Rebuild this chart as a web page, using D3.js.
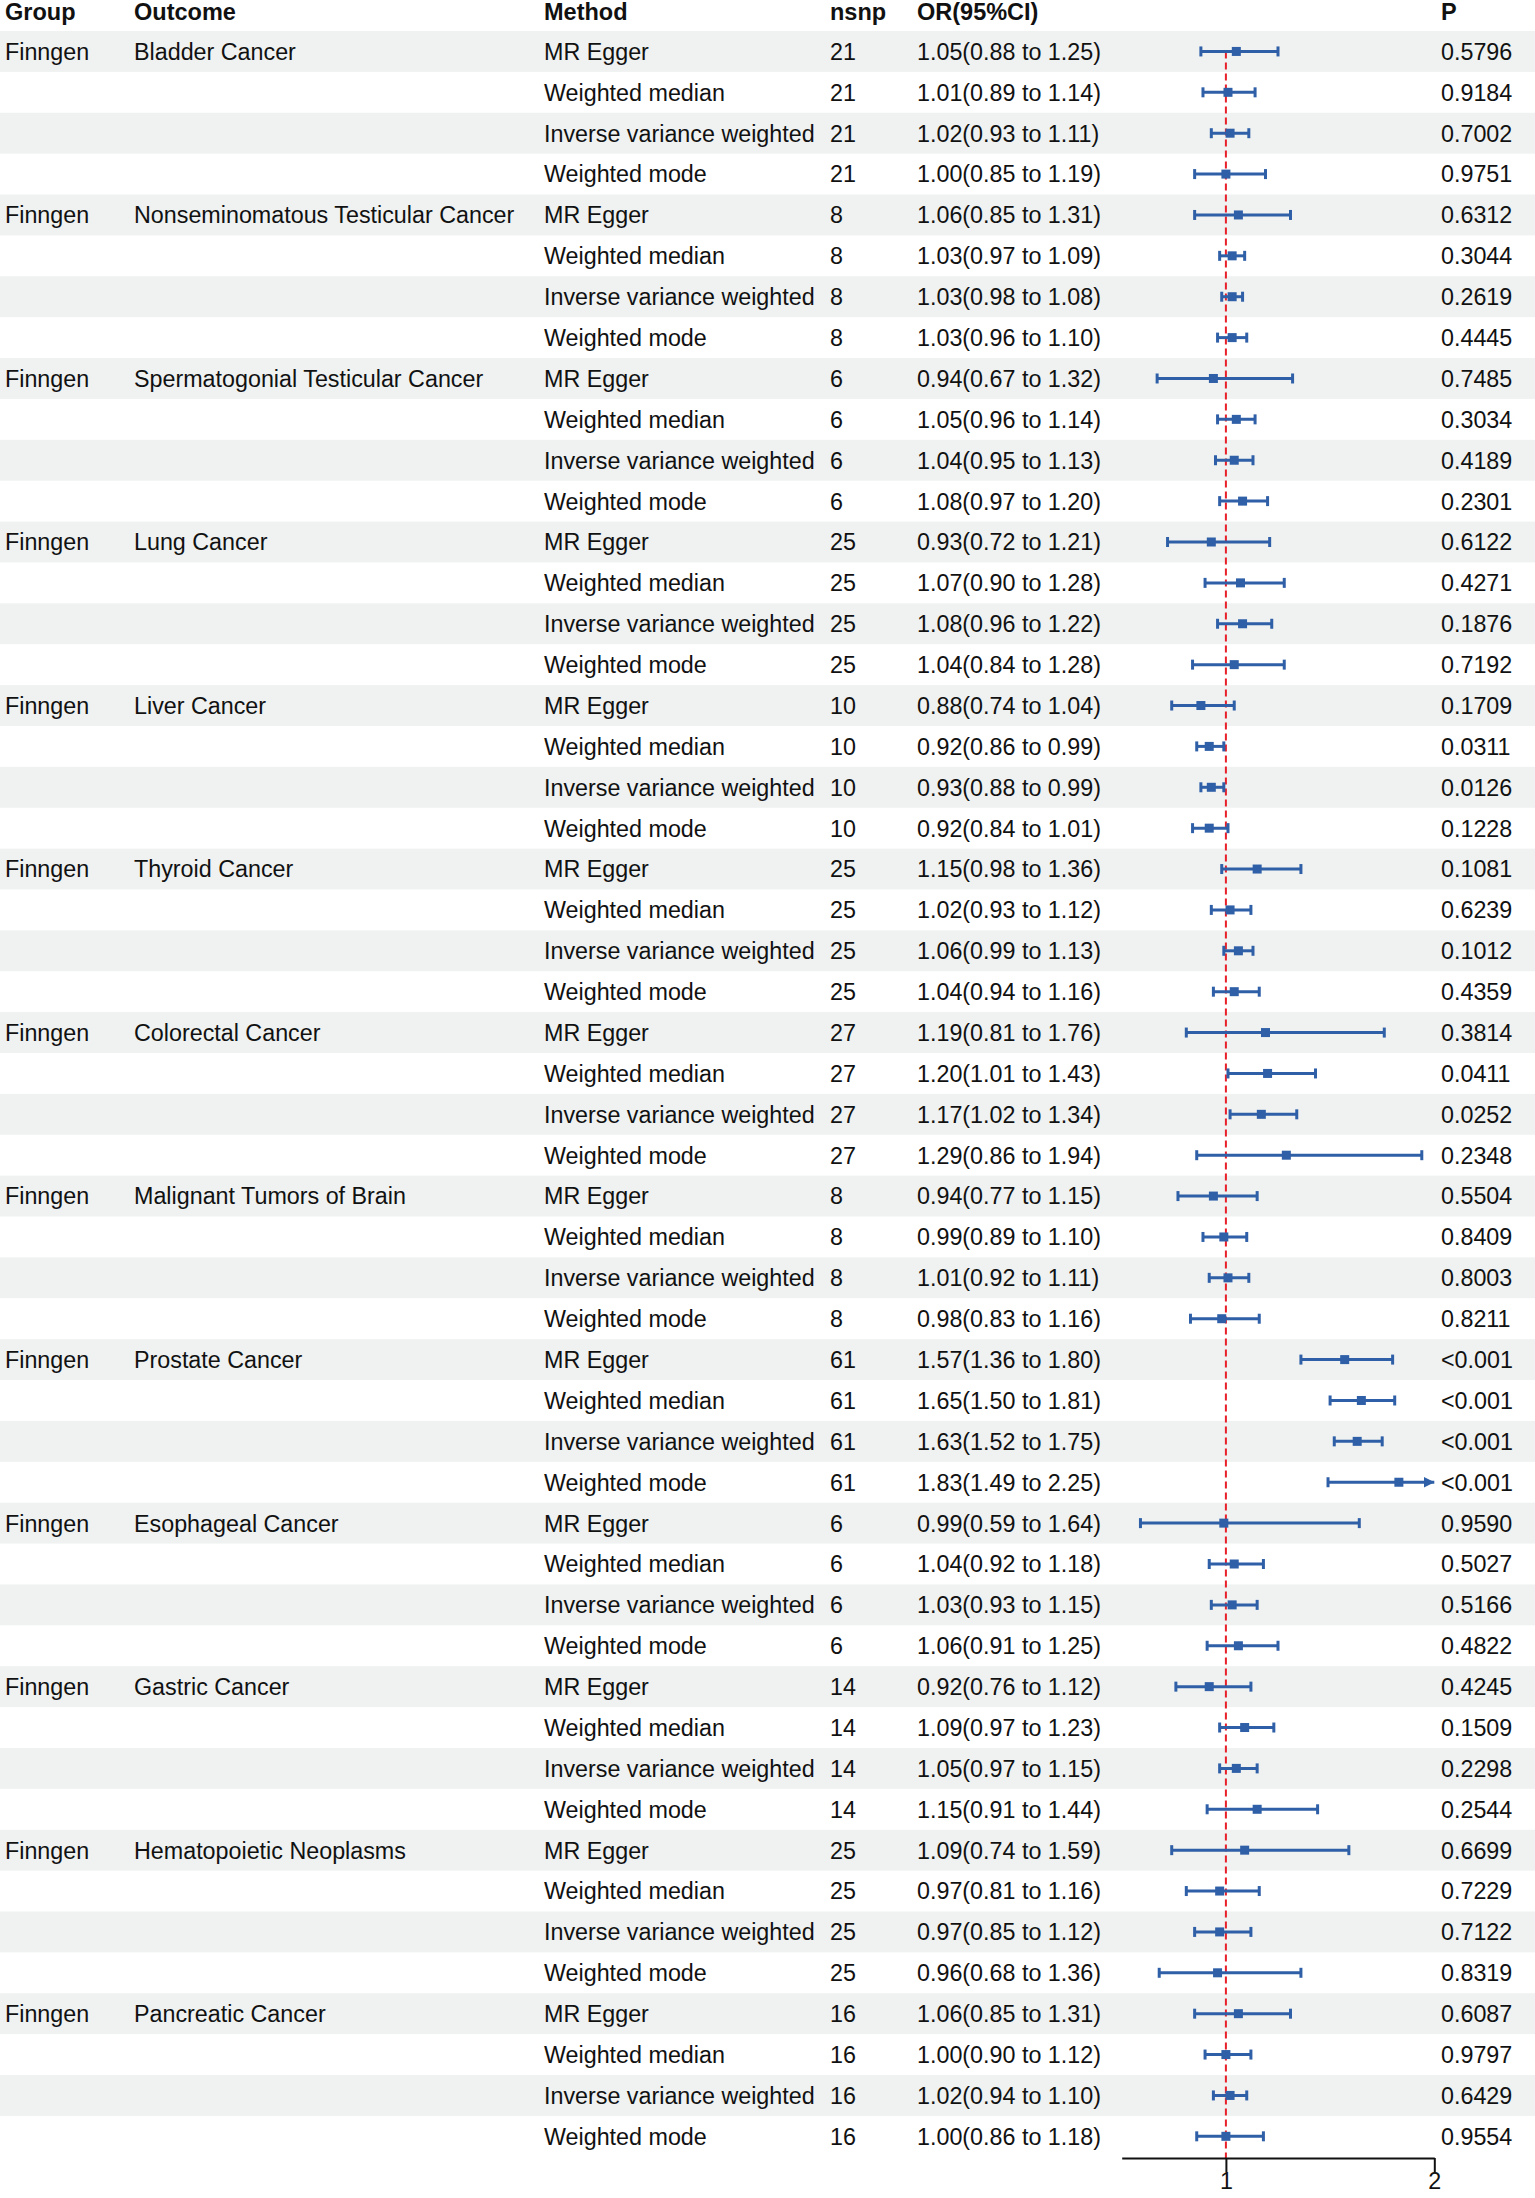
<!DOCTYPE html>
<html>
<head>
<meta charset="utf-8">
<script src="https://cdn.jsdelivr.net/npm/d3@7"></script>
<style>
  body { margin: 0; background: #fff; }
  text { font-family: "Liberation Sans", Arial, sans-serif; fill: #111; }
</style>
</head>
<body>
<div id="chart"></div>
<script>
// ---- data ----
var outcomes = ["Bladder Cancer", "Nonseminomatous Testicular Cancer", "Spermatogonial Testicular Cancer",
  "Lung Cancer", "Liver Cancer", "Thyroid Cancer", "Colorectal Cancer", "Malignant Tumors of Brain",
  "Prostate Cancer", "Esophageal Cancer", "Gastric Cancer", "Hematopoietic Neoplasms", "Pancreatic Cancer"];
var methods = ["MR Egger", "Weighted median", "Inverse variance weighted", "Weighted mode"];
var nsnp = [21, 8, 6, 25, 10, 25, 27, 8, 61, 6, 14, 25, 16];

var orEst = [1.05, 1.01, 1.02, 1.00,  1.06, 1.03, 1.03, 1.03,  0.94, 1.05, 1.04, 1.08,  0.93, 1.07, 1.08, 1.04,
  0.88, 0.92, 0.93, 0.92,  1.15, 1.02, 1.06, 1.04,  1.19, 1.20, 1.17, 1.29,  0.94, 0.99, 1.01, 0.98,
  1.57, 1.65, 1.63, 1.83,  0.99, 1.04, 1.03, 1.06,  0.92, 1.09, 1.05, 1.15,  1.09, 0.97, 0.97, 0.96,
  1.06, 1.00, 1.02, 1.00];
var orLow = [0.88, 0.89, 0.93, 0.85,  0.85, 0.97, 0.98, 0.96,  0.67, 0.96, 0.95, 0.97,  0.72, 0.90, 0.96, 0.84,
  0.74, 0.86, 0.88, 0.84,  0.98, 0.93, 0.99, 0.94,  0.81, 1.01, 1.02, 0.86,  0.77, 0.89, 0.92, 0.83,
  1.36, 1.50, 1.52, 1.49,  0.59, 0.92, 0.93, 0.91,  0.76, 0.97, 0.97, 0.91,  0.74, 0.81, 0.85, 0.68,
  0.85, 0.90, 0.94, 0.86];
var orHigh = [1.25, 1.14, 1.11, 1.19,  1.31, 1.09, 1.08, 1.10,  1.32, 1.14, 1.13, 1.20,  1.21, 1.28, 1.22, 1.28,
  1.04, 0.99, 0.99, 1.01,  1.36, 1.12, 1.13, 1.16,  1.76, 1.43, 1.34, 1.94,  1.15, 1.10, 1.11, 1.16,
  1.80, 1.81, 1.75, 2.25,  1.64, 1.18, 1.15, 1.25,  1.12, 1.23, 1.15, 1.44,  1.59, 1.16, 1.12, 1.36,
  1.31, 1.12, 1.10, 1.18];
var pText = ["0.5796", "0.9184", "0.7002", "0.9751",  "0.6312", "0.3044", "0.2619", "0.4445",
  "0.7485", "0.3034", "0.4189", "0.2301",  "0.6122", "0.4271", "0.1876", "0.7192",
  "0.1709", "0.0311", "0.0126", "0.1228",  "0.1081", "0.6239", "0.1012", "0.4359",
  "0.3814", "0.0411", "0.0252", "0.2348",  "0.5504", "0.8409", "0.8003", "0.8211",
  "<0.001", "<0.001", "<0.001", "<0.001",  "0.9590", "0.5027", "0.5166", "0.4822",
  "0.4245", "0.1509", "0.2298", "0.2544",  "0.6699", "0.7229", "0.7122", "0.8319",
  "0.6087", "0.9797", "0.6429", "0.9554"];
var xTicks = [1, 2];

// build one record per table row
var rows = [];
outcomes.forEach(function(o, i) {
  methods.forEach(function(m, j) {
    var k = i * methods.length + j;
    rows.push({
      group: j === 0 ? "Finngen" : "",
      outcome: j === 0 ? o : "",
      method: m,
      n: nsnp[i],
      est: orEst[k], lo: orLow[k], hi: orHigh[k],
      p: pText[k]
    });
  });
});

var W = 1535, H = 2198;
var rowTop = 31, rowH = 40.88;
var blue = "#2f5fa7";

var svg = d3.select("#chart").append("svg")
  .attr("width", W)
  .attr("height", H);

var y = d3.scaleBand()
  .domain(d3.range(rows.length))
  .range([rowTop, rowTop + rows.length * rowH]);

var x = d3.scaleLinear()
  .domain([0.5, 2])
  .range([1121.7, 1434.3]);

// zebra stripes
svg.selectAll(".stripe")
  .data(rows).enter()
  .append("rect")
  .attr("class", "stripe")
  .attr("x", 0)
  .attr("width", W)
  .attr("y", function(d, i) { return y(i); })
  .attr("height", y.bandwidth())
  .attr("fill", function(d, i) { return i % 2 === 0 ? "#eff2f1" : "none"; });

// column layout
var cols = [
  {key: "group", title: "Group", x: 5},
  {key: "outcome", title: "Outcome", x: 134},
  {key: "method", title: "Method", x: 544},
  {key: "n", title: "nsnp", x: 830},
  {key: "ci", title: "OR(95%CI)", x: 917},
  {key: "p", title: "P", x: 1441}
];

function cellText(d, key) {
  if (key === "ci") return d.est.toFixed(2) + "(" + d.lo.toFixed(2) + " to " + d.hi.toFixed(2) + ")";
  return d[key];
}

svg.selectAll(".header")
  .data(cols).enter()
  .append("text")
  .attr("class", "header")
  .attr("x", function(d) { return d.x; })
  .attr("y", 20)
  .attr("font-size", "23.5px")
  .attr("font-weight", "bold")
  .text(function(d) { return d.title; });

cols.forEach(function(c) {
  svg.selectAll(".cell-" + c.key)
    .data(rows).enter()
    .append("text")
    .attr("class", "cell-" + c.key)
    .attr("x", c.x)
    .attr("y", function(d, i) { return y(i) + y.bandwidth() / 2; })
    .attr("dy", "0.36em")
    .attr("font-size", "23.3px")
    .text(function(d) { return cellText(d, c.key); });
});

// reference line at OR = 1
svg.append("line")
  .attr("x1", x(1)).attr("x2", x(1))
  .attr("y1", y(0) + y.bandwidth() / 2)
  .attr("y2", 2158)
  .attr("stroke", "#e8202a")
  .attr("stroke-width", 2)
  .attr("stroke-dasharray", "7,4");

// arrow for clipped intervals
svg.append("defs").append("marker")
  .attr("id", "arrow")
  .attr("viewBox", "0 0 10 10")
  .attr("refX", 10).attr("refY", 5)
  .attr("markerWidth", 3.6).attr("markerHeight", 3.6)
  .attr("markerUnits", "strokeWidth")
  .attr("orient", "auto")
  .append("path")
  .attr("d", "M0,0L10,5L0,10Z")
  .attr("fill", blue);

var xMax = x.domain()[1];

var ci = svg.selectAll(".ci")
  .data(rows).enter()
  .append("g")
  .attr("class", "ci")
  .attr("transform", function(d, i) { return "translate(0," + (y(i) + y.bandwidth() / 2) + ")"; });

ci.append("line")
  .attr("x1", function(d) { return x(d.lo); })
  .attr("x2", function(d) { return x(Math.min(d.hi, xMax)); })
  .attr("stroke", blue)
  .attr("stroke-width", 3)
  .attr("marker-end", function(d) { return d.hi > xMax ? "url(#arrow)" : null; });

ci.append("line")
  .attr("x1", function(d) { return x(d.lo); })
  .attr("x2", function(d) { return x(d.lo); })
  .attr("y1", -5).attr("y2", 5)
  .attr("stroke", blue)
  .attr("stroke-width", 3);

ci.filter(function(d) { return d.hi <= xMax; })
  .append("line")
  .attr("x1", function(d) { return x(d.hi); })
  .attr("x2", function(d) { return x(d.hi); })
  .attr("y1", -5).attr("y2", 5)
  .attr("stroke", blue)
  .attr("stroke-width", 3);

ci.append("rect")
  .attr("x", function(d) { return x(d.est) - 4.5; })
  .attr("y", -4.5)
  .attr("width", 9)
  .attr("height", 9)
  .attr("fill", blue);

// x axis
var axis = svg.append("g")
  .attr("class", "x axis")
  .attr("transform", "translate(0,2158)")
  .call(d3.axisBottom(x).tickValues(xTicks).tickFormat(d3.format("d"))
    .tickSize(14).tickSizeOuter(0).tickPadding(0));

axis.select(".domain").attr("stroke", "#111").attr("stroke-width", 2);
axis.selectAll(".tick line").attr("stroke", "#111").attr("stroke-width", 2);
axis.selectAll(".tick text")
  .attr("font-size", "23.3px")
  .attr("font-family", "Liberation Sans, Arial, sans-serif")
  .attr("fill", "#111");
</script>
</body>
</html>
